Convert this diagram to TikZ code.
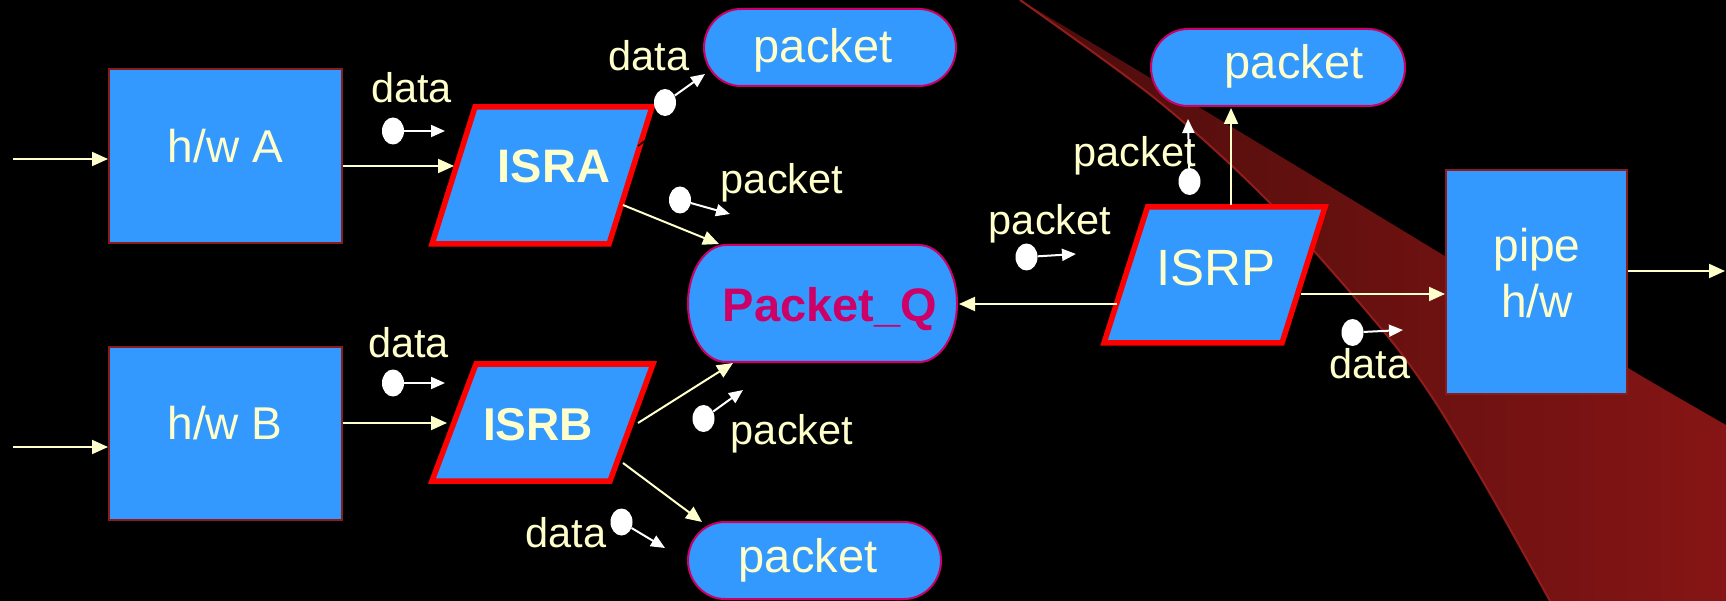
\documentclass[tikz,border=0pt]{standalone}
\usepackage{fontspec}
\setmainfont{Liberation Sans}
\usetikzlibrary{arrows.meta,shapes.geometric}

\definecolor{boxblue}{HTML}{3399FF}
\definecolor{txt}{HTML}{FFFFCC}
\definecolor{qtext}{HTML}{CC0066}
\definecolor{hwedge}{HTML}{8C1C1C}
\definecolor{pktedge}{HTML}{CC0066}
\definecolor{isredge}{HTML}{FF0000}
\definecolor{bandL}{HTML}{4A0D0B}
\definecolor{bandR}{HTML}{861515}
\definecolor{bandline}{HTML}{921C1C}

% rectangle with elliptical corners: x0 y0 x1 y1 rx ry
\newcommand\softbox[6]{({#1+#5},#2) -- ({#3-#5},#2)
  .. controls ({#3-0.448*#5},#2) and (#3,{#2+0.448*#6}) .. (#3,{#2+#6}) -- (#3,{#4-#6})
  .. controls (#3,{#4-0.448*#6}) and ({#3-0.448*#5},#4) .. ({#3-#5},#4) -- ({#1+#5},#4)
  .. controls ({#1+0.448*#5},#4) and (#1,{#4-0.448*#6}) .. (#1,{#4-#6}) -- (#1,{#2+#6})
  .. controls (#1,{#2+0.448*#6}) and ({#1+0.448*#5},#2) .. ({#1+#5},#2) -- cycle}

\begin{document}
\begin{tikzpicture}[x=1pt,y=-1pt,
  hwbox/.style={rectangle, fill=boxblue, draw=hwedge, line width=2pt, inner sep=0pt},
  boxtext/.style={anchor=base, inner sep=0pt, text=txt, font=\fontsize{46}{55}\selectfont},
  isrframe/.style={fill=boxblue, draw=isredge, line width=5.5pt, line join=miter},
  isrtext/.style={anchor=base, inner sep=0pt, text=txt, font=\bfseries\fontsize{47}{56}\selectfont},
  pktframe/.style={fill=boxblue, draw=pktedge, line width=2pt},
  pkttext/.style={anchor=base, inner sep=0pt, text=txt, font=\fontsize{47}{56}\selectfont},
  lbl/.style={anchor=base, inner sep=0pt, text=txt, font=\fontsize{41.5}{50}\selectfont},
  conn/.style={draw=txt, line width=2pt, -{Triangle[length=16pt,width=14pt]}},
  tok/.style={ellipse, fill=white, minimum width=22pt, minimum height=27pt, inner sep=0pt},
  tokarr/.style={draw=white, line width=2pt, -{Triangle[length=14pt,width=12pt]}}
]
\fill[black] (0,0) rectangle (1726,601);
\useasboundingbox (0,0) rectangle (1726,601);

% sweeping red band
\shade[left color=bandL, right color=bandR]
  plot[smooth] coordinates {(1020,0) (1157,100) (1267,200) (1380,327) (1432,397) (1488,490) (1550,601)}
  -- (1726,601)
  -- plot[smooth] coordinates {(1726,425) (1628,368) (1443,255) (1250,138) (1087,40) (1020,0)} -- cycle;
\draw[bandline, line width=2pt]
  plot[smooth] coordinates {(1020,0) (1157,100) (1267,200) (1380,327) (1432,397) (1488,490) (1550,601)};

% hardware blocks
\node[hwbox, minimum width=233pt, minimum height=174pt] (hwA) at (225.5,156) {};
\node[boxtext] (hwAt) at (225.5,163) {h/w A};
\node[hwbox, minimum width=233pt, minimum height=173pt] (hwB) at (225.5,433.5) {};
\node[boxtext] (hwBt) at (225,439) {h/w B};
\node[hwbox, minimum width=181pt, minimum height=224pt] (pipe) at (1536.5,282) {};
\node[boxtext] (pipet1) at (1537,262) {pipe};
\node[boxtext] (pipet2) at (1537,318) {h/w};

% interrupt service routines
\draw[isrframe] (475,107) -- (652,107) -- (609,244) -- (432,244) -- cycle;
\node[isrtext] (ISRA) at (554,183) {ISRA};
\draw[isrframe] (476,364) -- (653,364) -- (610,481) -- (432,481) -- cycle;
\node[isrtext, font=\bfseries\fontsize{46}{55}\selectfont] (ISRB) at (538,440) {ISRB};
\draw[isrframe] (1147.5,207) -- (1325,207) -- (1282,343) -- (1104,343) -- cycle;
\node[isrtext, font=\fontsize{51}{61}\selectfont] (ISRP) at (1216,285.5) {ISRP};
\draw[black, line width=1.5pt] (638,146) -- (646,140);

% packet stores and the queue
\draw[pktframe] \softbox{704}{9}{956}{86}{37}{38.5};
\node[pkttext] (pA) at (823,63) {packet};
\draw[pktframe] \softbox{1151}{29}{1405}{106}{37}{38.5};
\node[pkttext] (pR) at (1294,79) {packet};
\draw[pktframe] \softbox{688}{522}{941}{599}{37}{38.5};
\node[pkttext] (pB) at (808,572) {packet};
\draw[pktframe] \softbox{688}{245}{957}{362}{38}{58.5};
\node[pkttext, text=qtext, font=\bfseries\fontsize{47}{56}\selectfont] (Q) at (830,322) {Packet\_Q};

% connectors
\coordinate (inA) at (13,159);
\draw[conn] (inA) -- (inA -| hwA.west);
\coordinate (inB) at (13,447);
\draw[conn] (inB) -- (inB -| hwB.west);
\coordinate (ISRAin) at (454,166);
\draw[conn] (hwA.east |- ISRAin) -- (ISRAin);
\coordinate (ISRBin) at (447,423);
\draw[conn] (hwB.east |- ISRBin) -- (ISRBin);
\coordinate (ISRAq) at (623,205);
\coordinate (Qa) at (719,244);
\draw[conn] (ISRAq) -- (Qa);
\coordinate (ISRBq) at (638,423);
\coordinate (Qb) at (733,363);
\draw[conn] (ISRBq) -- (Qb);
\coordinate (ISRBp) at (623,463);
\coordinate (pBin) at (702,522);
\draw[conn] (ISRBp) -- (pBin);
\coordinate (ISRPq) at (1117,304);
\coordinate (Qp) at (959,304);
\draw[conn] (ISRPq) -- (Qp);
\coordinate (ISRPup) at (1231,205);
\coordinate (pRin) at (1231,108);
\draw[conn] (ISRPup) -- (pRin);
\coordinate (ISRPout) at (1301,294);
\draw[conn] (ISRPout) -- (ISRPout -| pipe.west);
\coordinate (out) at (1725,271);
\draw[conn] (pipe.east |- out) -- (out);

% moving data / packet tokens
\node[tok] (k1) at (393,131) {};
\coordinate (k1e) at (445,131);
\draw[tokarr] (k1) -- (k1e);
\node[lbl] (l1) at (411.5,103) {data};

\node[tok] (k2) at (393,383) {};
\coordinate (k2e) at (445,383);
\draw[tokarr] (k2) -- (k2e);
\node[lbl] (l2) at (408.5,358) {data};

\node[tok] (k3) at (665,102.5) {};
\coordinate (k3e) at (705,74);
\draw[tokarr] (k3) -- (k3e);
\node[lbl] (l3) at (649,71) {data};

\node[tok] (k4) at (680,200) {};
\coordinate (k4e) at (730,214);
\draw[tokarr] (k4) -- (k4e);
\node[lbl] (l4) at (782,193.5) {packet};

\node[tok] (k5) at (703.5,418.5) {};
\coordinate (k5e) at (743,390);
\draw[tokarr] (k5) -- (k5e);
\node[lbl] (l5) at (792,444.5) {packet};

\node[tok] (k6) at (621.5,522) {};
\coordinate (k6e) at (665,548);
\draw[tokarr] (k6) -- (k6e);
\node[lbl] (l6) at (566,547) {data};

\node[lbl] (l7) at (1134.5,167) {packet};
\node[tok] (k7) at (1189.5,181.5) {};
\coordinate (k7e) at (1188,119);
\draw[tokarr] (k7) -- (k7e);

\node[tok] (k8) at (1026.5,257) {};
\coordinate (k8e) at (1076,254);
\draw[tokarr] (k8) -- (k8e);
\node[lbl] (l8) at (1050,234.5) {packet};

\node[tok] (k9) at (1352.5,332.5) {};
\coordinate (k9e) at (1403,330);
\draw[tokarr] (k9) -- (k9e);
\node[lbl] (l9) at (1370,378) {data};
\end{tikzpicture}
\end{document}
